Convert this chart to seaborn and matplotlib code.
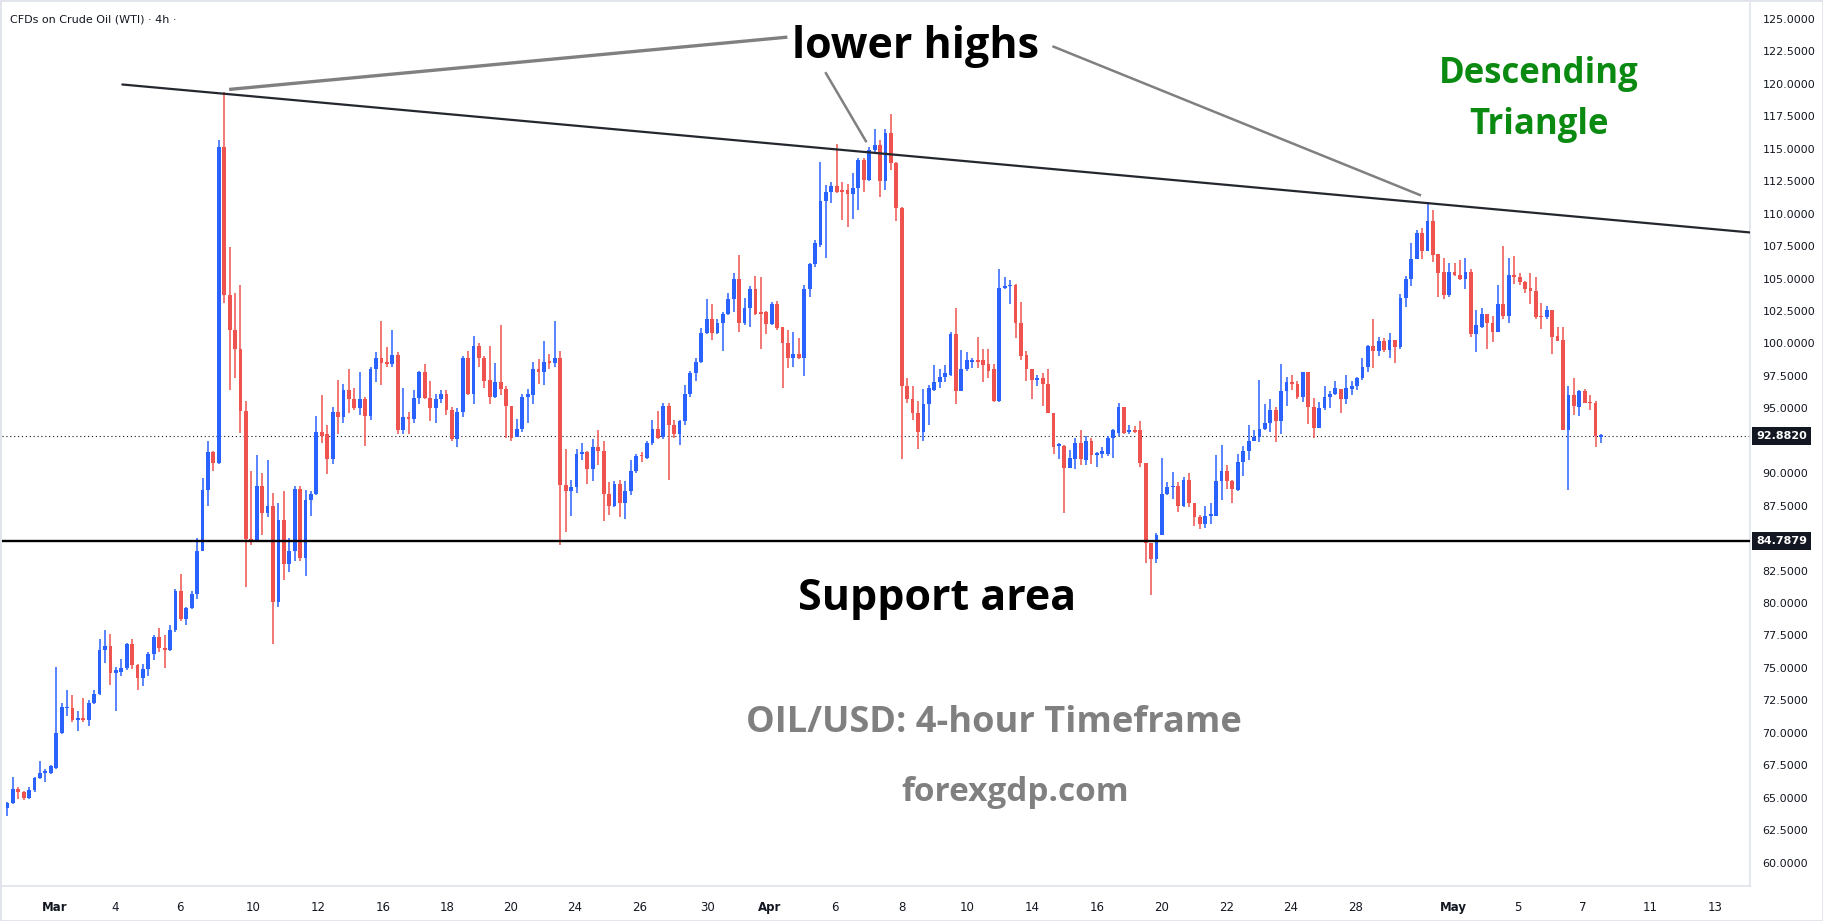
import numpy as np
import pandas as pd
import matplotlib
matplotlib.use("Agg")
import matplotlib.pyplot as plt
import seaborn as sns
from matplotlib.patches import Rectangle

# 4h candles (oldest first)
opens = [
    64.2, 64.6, 65.7, 65.4, 65.0, 65.6, 66.5, 66.9, 66.9, 67.3,
    70.0, 71.9, 71.9, 71.0, 71.1, 71.0, 72.3, 73.0, 76.4, 76.7,
    74.6, 74.7, 75.0, 76.8, 75.2, 74.2, 74.9, 76.1, 77.4, 76.5,
    76.4, 77.9, 80.9, 78.8, 79.6, 80.7, 84.0, 88.7, 91.6, 90.8,
    115.1, 103.7, 101.0, 99.6, 94.8, 84.9, 84.8, 89.0, 86.9, 87.5,
    80.1, 86.4, 83.0, 84.0, 88.8, 83.5, 87.9, 88.4, 93.2, 93.0,
    91.1, 94.7, 94.3, 96.4, 95.7, 95.0, 95.7, 94.4, 98.0, 98.9,
    98.5, 98.4, 99.1, 93.3, 94.3, 94.2, 95.8, 97.8, 95.8, 95.0,
    95.7, 96.1, 94.9, 92.6, 94.7, 98.9, 96.1, 99.8, 98.9, 97.2,
    95.9, 97.0, 96.5, 95.2, 92.8, 93.4, 95.9, 96.0, 98.0, 97.8,
    98.6, 98.5, 98.9, 89.1, 88.6, 88.9, 91.5, 91.6, 90.3, 92.0,
    91.7, 88.4, 87.5, 89.2, 87.7, 88.6, 90.2, 91.4, 91.2, 92.3,
    93.4, 92.8, 95.2, 93.7, 93.0, 94.0, 96.1, 97.7, 98.6, 100.8,
    101.9, 100.8, 101.6, 102.3, 103.4, 105.0, 101.6, 102.7, 104.2, 102.4,
    102.4, 101.5, 103.0, 101.3, 100.0, 98.9, 99.2, 98.9, 104.2, 106.1,
    107.6, 111.0, 111.7, 112.1, 111.8, 111.8, 111.5, 112.0, 114.1, 112.6,
    114.9, 115.3, 112.5, 116.2, 113.9, 110.4, 96.7, 95.7, 94.6, 93.2,
    95.3, 96.4, 97.0, 97.4, 97.6, 100.7, 96.3, 98.0, 98.6, 98.7,
    98.7, 98.4, 98.0, 95.6, 104.3, 104.4, 104.5, 101.6, 99.1, 98.0,
    97.2, 97.3, 96.9, 94.6, 92.1, 92.1, 90.4, 91.1, 92.3, 91.0,
    92.5, 91.4, 91.5, 91.5, 92.7, 93.1, 95.1, 93.2, 93.3, 93.3,
    90.8, 84.6, 83.4, 85.2, 88.4, 88.9, 89.0, 87.5, 89.5, 87.7,
    86.6, 86.1, 86.7, 86.7, 89.4, 90.2, 89.4, 88.7, 90.9, 91.7,
    92.5, 92.8, 93.4, 93.9, 94.9, 94.0, 96.3, 97.0, 96.9, 95.9,
    97.8, 95.1, 93.5, 95.0, 95.9, 96.1, 96.5, 95.7, 96.5, 96.7,
    97.3, 98.2, 99.8, 99.4, 100.2, 99.5, 100.3, 99.7, 103.5, 105.0,
    106.5, 108.5, 107.1, 109.4, 106.9, 105.5, 103.7, 105.5, 105.3, 105.0,
    105.5, 100.7, 101.3, 102.3, 101.6, 100.9, 103.0, 102.1, 105.3, 105.1,
    104.7, 104.3, 104.0, 102.1, 102.0, 102.6, 100.6, 100.3, 93.3, 96.0,
    95.1, 96.3, 95.5, 95.4, 92.8,
]
highs = [
    64.7, 66.6, 65.8, 65.5, 65.8, 66.6, 67.8, 67.2, 67.5, 75.1,
    72.3, 73.3, 72.9, 71.7, 72.7, 72.5, 73.3, 77.2, 77.9, 77.6,
    75.1, 75.7, 76.9, 77.2, 75.3, 75.3, 76.2, 77.5, 78.1, 77.5,
    78.3, 81.1, 82.2, 79.7, 80.9, 85.0, 89.6, 92.5, 91.7, 115.7,
    119.4, 107.4, 103.9, 104.5, 95.6, 90.2, 91.4, 90.0, 91.0, 88.5,
    87.7, 88.6, 85.0, 89.0, 89.0, 88.7, 88.6, 94.4, 96.0, 93.7,
    95.1, 97.2, 96.9, 98.0, 96.6, 97.8, 95.9, 98.2, 99.3, 101.7,
    99.7, 101.0, 99.3, 96.6, 94.7, 96.4, 97.9, 98.4, 97.1, 96.1,
    96.4, 96.4, 95.1, 95.0, 99.0, 99.4, 100.6, 100.0, 99.0, 99.8,
    98.5, 101.4, 96.7, 95.2, 94.2, 96.1, 96.5, 98.6, 98.8, 100.2,
    99.2, 101.7, 99.4, 91.9, 89.5, 91.9, 92.3, 91.7, 92.6, 93.3,
    92.5, 89.3, 89.4, 89.5, 89.4, 91.0, 91.5, 91.6, 92.5, 94.1,
    94.8, 95.4, 95.4, 94.1, 94.1, 96.8, 97.9, 98.9, 101.2, 103.4,
    103.0, 101.9, 102.4, 103.9, 105.4, 106.8, 103.5, 104.4, 105.2, 105.1,
    102.5, 103.2, 103.3, 101.3, 101.0, 100.9, 100.4, 104.5, 106.2, 108.0,
    114.0, 112.2, 112.4, 115.4, 112.4, 112.3, 113.1, 114.3, 114.3, 115.1,
    116.5, 115.7, 116.5, 117.7, 114.0, 110.5, 97.3, 96.7, 95.6, 96.5,
    96.8, 98.3, 98.0, 98.3, 100.9, 102.7, 99.5, 99.3, 98.9, 100.5,
    99.6, 99.6, 98.4, 105.7, 105.1, 104.9, 104.6, 103.2, 99.4, 98.0,
    97.6, 97.7, 98.0, 94.6, 92.3, 92.2, 91.8, 92.7, 93.3, 92.9,
    92.7, 91.6, 92.0, 92.9, 93.4, 95.4, 95.1, 93.7, 93.6, 94.0,
    90.8, 84.6, 85.4, 91.2, 89.3, 90.1, 89.3, 89.7, 90.0, 87.7,
    86.8, 87.5, 87.7, 91.4, 92.2, 90.6, 89.5, 91.5, 92.1, 93.7,
    93.3, 97.2, 95.3, 95.7, 95.1, 98.4, 97.4, 97.6, 97.1, 97.8,
    97.8, 95.8, 95.5, 96.7, 96.3, 97.1, 96.5, 97.6, 97.1, 97.4,
    98.9, 99.9, 101.9, 100.5, 100.4, 100.8, 100.3, 103.8, 105.2, 107.7,
    108.7, 108.9, 110.9, 110.3, 106.9, 106.6, 106.2, 106.2, 106.4, 106.6,
    105.7, 102.6, 102.7, 102.3, 102.1, 104.5, 107.5, 106.6, 106.7, 105.4,
    104.8, 105.4, 105.1, 103.1, 102.9, 102.6, 101.3, 101.3, 96.7, 97.3,
    96.4, 96.5, 96.0, 95.6, 93.0,
]
lows = [
    63.6, 64.5, 64.9, 64.8, 64.9, 65.4, 66.4, 66.2, 66.8, 67.2,
    69.9, 71.3, 70.8, 70.1, 70.8, 70.5, 72.2, 72.9, 75.4, 73.7,
    71.7, 74.4, 74.8, 74.9, 73.3, 73.6, 74.4, 75.6, 76.2, 75.0,
    76.3, 77.8, 78.6, 78.3, 79.5, 80.3, 84.0, 87.5, 90.2, 90.7,
    103.1, 96.4, 97.3, 93.1, 81.2, 84.5, 84.7, 85.2, 86.6, 76.8,
    79.7, 81.8, 82.4, 83.2, 83.2, 82.1, 86.7, 88.3, 92.3, 89.9,
    90.7, 93.0, 93.9, 94.6, 94.9, 94.5, 92.1, 94.1, 97.0, 96.8,
    98.2, 98.2, 93.0, 93.0, 93.0, 93.9, 95.3, 95.7, 94.0, 93.9,
    95.4, 94.5, 92.5, 92.0, 94.3, 96.0, 95.3, 98.2, 96.6, 95.3,
    95.8, 96.0, 92.7, 92.5, 92.8, 93.2, 93.9, 95.3, 96.9, 96.8,
    98.0, 98.2, 84.5, 85.5, 86.7, 88.5, 91.0, 89.2, 89.4, 90.6,
    86.3, 86.8, 87.4, 86.6, 86.5, 88.3, 90.0, 90.9, 91.1, 92.2,
    92.6, 92.6, 89.5, 92.7, 92.2, 93.7, 95.9, 97.1, 98.5, 100.7,
    100.3, 100.7, 99.4, 102.2, 102.4, 100.9, 101.4, 101.3, 102.2, 99.6,
    100.7, 101.4, 101.0, 96.6, 98.1, 98.2, 98.8, 97.5, 103.6, 105.9,
    107.4, 106.6, 110.8, 111.6, 109.5, 109.0, 109.6, 110.3, 111.7, 112.5,
    114.6, 111.3, 111.8, 113.4, 109.4, 91.1, 95.4, 94.1, 91.9, 92.5,
    93.7, 96.3, 96.6, 97.0, 97.5, 95.3, 96.3, 97.9, 98.1, 98.1,
    97.0, 97.3, 95.5, 95.5, 104.2, 103.0, 100.4, 98.7, 97.1, 95.7,
    96.7, 95.2, 94.6, 91.5, 91.1, 86.9, 90.4, 90.3, 90.6, 90.6,
    90.7, 90.5, 91.2, 91.3, 91.2, 92.9, 93.0, 93.0, 93.1, 90.5,
    83.1, 80.6, 83.1, 85.2, 88.3, 88.0, 87.0, 87.4, 87.4, 85.9,
    85.7, 85.8, 86.1, 86.7, 87.9, 88.8, 87.7, 88.6, 89.8, 91.0,
    92.5, 92.4, 93.3, 93.2, 92.4, 93.0, 95.2, 96.4, 95.7, 95.5,
    93.8, 92.7, 93.5, 94.9, 95.0, 96.0, 94.6, 95.3, 96.0, 96.4,
    97.2, 97.8, 98.1, 99.0, 99.3, 98.9, 98.5, 99.6, 102.8, 104.4,
    106.5, 106.5, 107.1, 106.3, 103.6, 103.4, 103.6, 105.2, 104.9, 104.2,
    100.5, 99.3, 101.2, 99.6, 100.1, 100.9, 101.9, 101.6, 104.6, 104.5,
    103.9, 103.0, 101.9, 101.1, 101.9, 99.2, 100.2, 93.3, 88.7, 94.5,
    94.4, 95.4, 94.9, 92.0, 92.3,
]
closes = [
    64.6, 65.7, 65.4, 65.0, 65.6, 66.5, 66.9, 67.0, 67.4, 70.0,
    72.0, 72.0, 71.0, 71.1, 71.0, 72.3, 73.0, 76.4, 76.7, 74.6,
    74.8, 75.0, 76.8, 75.2, 74.2, 74.9, 76.1, 77.4, 76.5, 76.4,
    77.9, 80.9, 78.8, 79.6, 80.7, 84.0, 88.7, 91.6, 90.8, 115.1,
    103.7, 101.0, 99.6, 94.8, 84.9, 84.8, 89.0, 86.9, 87.5, 80.1,
    86.4, 83.0, 84.0, 88.8, 83.5, 87.9, 88.4, 93.2, 92.9, 91.1,
    94.7, 94.3, 96.4, 95.7, 95.0, 95.7, 94.4, 98.0, 98.9, 98.5,
    98.45, 99.1, 93.3, 94.3, 94.2, 95.8, 97.8, 95.8, 95.0, 95.7,
    96.1, 94.9, 92.6, 94.7, 98.9, 96.1, 99.8, 98.9, 97.1, 95.9,
    97.0, 96.5, 95.2, 92.7, 93.4, 95.9, 96.1, 98.0, 97.8, 98.6,
    98.5, 98.9, 89.1, 88.6, 88.9, 91.5, 91.6, 90.3, 92.0, 91.7,
    88.4, 87.5, 89.2, 87.7, 88.6, 90.2, 91.3, 91.3, 92.3, 93.4,
    92.7, 95.2, 93.7, 93.0, 94.0, 96.1, 97.7, 98.6, 100.8, 101.9,
    100.8, 101.6, 102.3, 103.4, 105.0, 101.6, 102.7, 104.2, 102.3, 102.3,
    101.5, 103.0, 101.2, 100.0, 98.9, 99.2, 98.9, 104.2, 106.1, 107.7,
    111.0, 111.7, 112.1, 111.7, 111.7, 111.5, 112.0, 114.1, 112.6, 114.9,
    115.3, 112.5, 116.2, 113.9, 110.4, 96.7, 95.7, 94.6, 93.2, 95.3,
    96.6, 97.0, 97.4, 97.7, 100.7, 96.3, 98.0, 98.7, 98.7, 98.6,
    98.3, 97.9, 95.6, 104.3, 104.4, 104.5, 101.6, 99.0, 98.0, 97.2,
    97.3, 96.9, 94.6, 92.0, 92.2, 90.4, 91.2, 92.3, 91.1, 92.5,
    91.4, 91.5, 91.7, 92.7, 93.3, 95.1, 93.1, 93.3, 93.2, 90.8,
    84.6, 83.4, 85.2, 88.4, 88.9, 89.0, 87.5, 89.5, 87.7, 86.6,
    86.1, 86.7, 86.8, 89.4, 90.2, 89.4, 88.8, 90.9, 91.7, 92.5,
    92.8, 93.4, 93.9, 94.9, 94.0, 96.3, 97.0, 96.9, 95.9, 97.8,
    95.1, 93.5, 95.0, 95.9, 96.1, 96.6, 95.7, 96.6, 96.7, 97.3,
    98.2, 99.8, 99.4, 100.2, 99.5, 100.3, 99.7, 103.5, 105.0, 106.5,
    108.5, 107.1, 109.4, 106.8, 105.4, 103.7, 105.5, 105.3, 105.0, 105.5,
    100.7, 101.4, 102.3, 101.6, 100.9, 103.0, 102.1, 105.3, 105.1, 104.7,
    104.2, 104.0, 102.0, 102.0, 102.6, 100.5, 100.2, 93.3, 96.0, 95.2,
    96.3, 95.4, 95.4, 92.9, 92.882,
]

# bottom axis labels (bar positions) and right axis prices
xtick_pos = [8.8, 19.9, 31.9, 45.3, 57.3, 69.3, 81.1, 92.9, 104.7, 116.7, 129.1, 140.7,
             152.7, 165.1, 177.1, 189.1, 201.0, 213.0, 225.0, 236.7, 248.7, 266.7,
             278.7, 290.7, 303.1, 315.1]
xtick_labels = ["Mar", "4", "6", "10", "12", "16", "18", "20", "24", "26", "30", "Apr",
                "6", "8", "10", "14", "16", "20", "22", "24", "28", "May",
                "5", "7", "11", "13"]
ytick_values = [60.0, 62.5, 65.0, 67.5, 70.0, 72.5, 75.0, 77.5, 80.0, 82.5, 87.5, 90.0,
                95.0, 97.5, 100.0, 102.5, 105.0, 107.5, 110.0, 112.5, 115.0, 117.5,
                120.0, 122.5, 125.0]

last_price = 92.882
support_level = 84.7879
resistance_x = [21.2, 321.5]
resistance_y = [119.95, 108.55]
# "lower highs" pointer lines: (x0, y0, x1, y1)
pointer_lines = [
    (143.9, 123.6, 40.9, 119.57),
    (150.9, 120.9, 158.5, 115.5),
    (192.8, 122.9, 260.8, 111.4),
]

UP = "#2962ff"
DOWN = "#ef5350"
INK = "#131722"

sns.set_theme(style="white")
plt.rcParams["font.family"] = ["DejaVu Sans"]

df = pd.DataFrame({"open": opens, "high": highs, "low": lows, "close": closes})
df["bar"] = np.arange(len(df))
df["color"] = np.where(df["close"] >= df["open"], UP, DOWN)
df["body_lo"] = df[["open", "close"]].min(axis=1)
df["body_h"] = (df["close"] - df["open"]).abs().clip(lower=0.12)

fig = plt.figure(figsize=(18.23, 9.21), dpi=100)
fig.patch.set_facecolor("white")
ax = fig.add_axes([2 / 1823, 35 / 921, 1748 / 1823, 883 / 921])
ax.set_facecolor("white")

# candles
ax.vlines(df["bar"], df["low"], df["high"], colors=df["color"], linewidth=1.1, zorder=3)
ax.bar(df["bar"], df["body_h"], bottom=df["body_lo"], width=0.7,
       color=df["color"], linewidth=0, zorder=4)

# lines
ax.plot(resistance_x, resistance_y, color="#24272e", linewidth=1.6, zorder=5)
ax.axhline(support_level, color="black", linewidth=1.7, zorder=5)
ax.axhline(last_price, color=INK, linewidth=0.8, linestyle=(0, (1, 2.5)), zorder=2)
for i, (x0, y0, x1, y1) in enumerate(pointer_lines):
    ax.plot([x0, x1], [y0, y1], color="#808080", linewidth=2.4 if i == 0 else 1.8,
            solid_capstyle="butt", zorder=5)

ax.set_xlim(-1.0, 321.5)
ax.set_ylim(58.19, 126.23)

ax.yaxis.tick_right()
ax.set_yticks(ytick_values)
ax.set_yticklabels([f"{v:.4f}" for v in ytick_values])
ax.set_xticks(xtick_pos)
ax.set_xticklabels(xtick_labels)
for lab in ax.get_xticklabels():
    if lab.get_text() in ("Mar", "Apr", "May"):
        lab.set_fontweight("bold")
ax.tick_params(axis="y", length=0, labelsize=8, labelcolor=INK, pad=9)
ax.tick_params(axis="x", length=0, labelsize=8.5, labelcolor=INK, pad=11)
ax.grid(False)
for side in ("top", "left"):
    ax.spines[side].set_visible(False)
for side in ("right", "bottom"):
    ax.spines[side].set_color("#e0e3eb")
    ax.spines[side].set_linewidth(1.2)

# price tags on the right scale
for val in (last_price, support_level):
    ax.text(1.0035, val, f"{val:.4f}", transform=ax.get_yaxis_transform(),
            ha="left", va="center", fontsize=8, fontweight="bold", color="white",
            bbox=dict(boxstyle="square,pad=0.35", fc=INK, ec="none"), zorder=10,
            clip_on=False)

# annotations
W, H = 1823, 921
def ftext(px, py, s, **kw):
    fig.text(px / W, 1 - py / H, s, ha="center", va="center", **kw)

big = dict(family=["Open Sans", "DejaVu Sans"], fontweight="bold")
ftext(916, 47, "lower highs", fontsize=31, color="black", **big)
ftext(937, 598, "Support area", fontsize=31, color="black", **big)
ftext(1539, 74, "Descending", fontsize=25, color="#0b8a12", **big)
ftext(1539, 125, "Triangle", fontsize=25, color="#0b8a12", **big)
ftext(994, 723, "OIL/USD: 4-hour Timeframe", fontsize=26, color="#808080", **big)
ftext(1015, 792, "forexgdp.com", fontsize=24, color="#808080", **big)

fig.text(10 / W, 1 - 20 / H, "CFDs on Crude Oil (WTI) \u00b7 4h \u00b7", ha="left",
         va="center", fontsize=8, color=INK)

fig.patches.append(Rectangle((0, 0), 1, 1, transform=fig.transFigure, fill=False,
                             edgecolor="#e0e3eb", linewidth=2))

fig.savefig("out.png", dpi=100)
